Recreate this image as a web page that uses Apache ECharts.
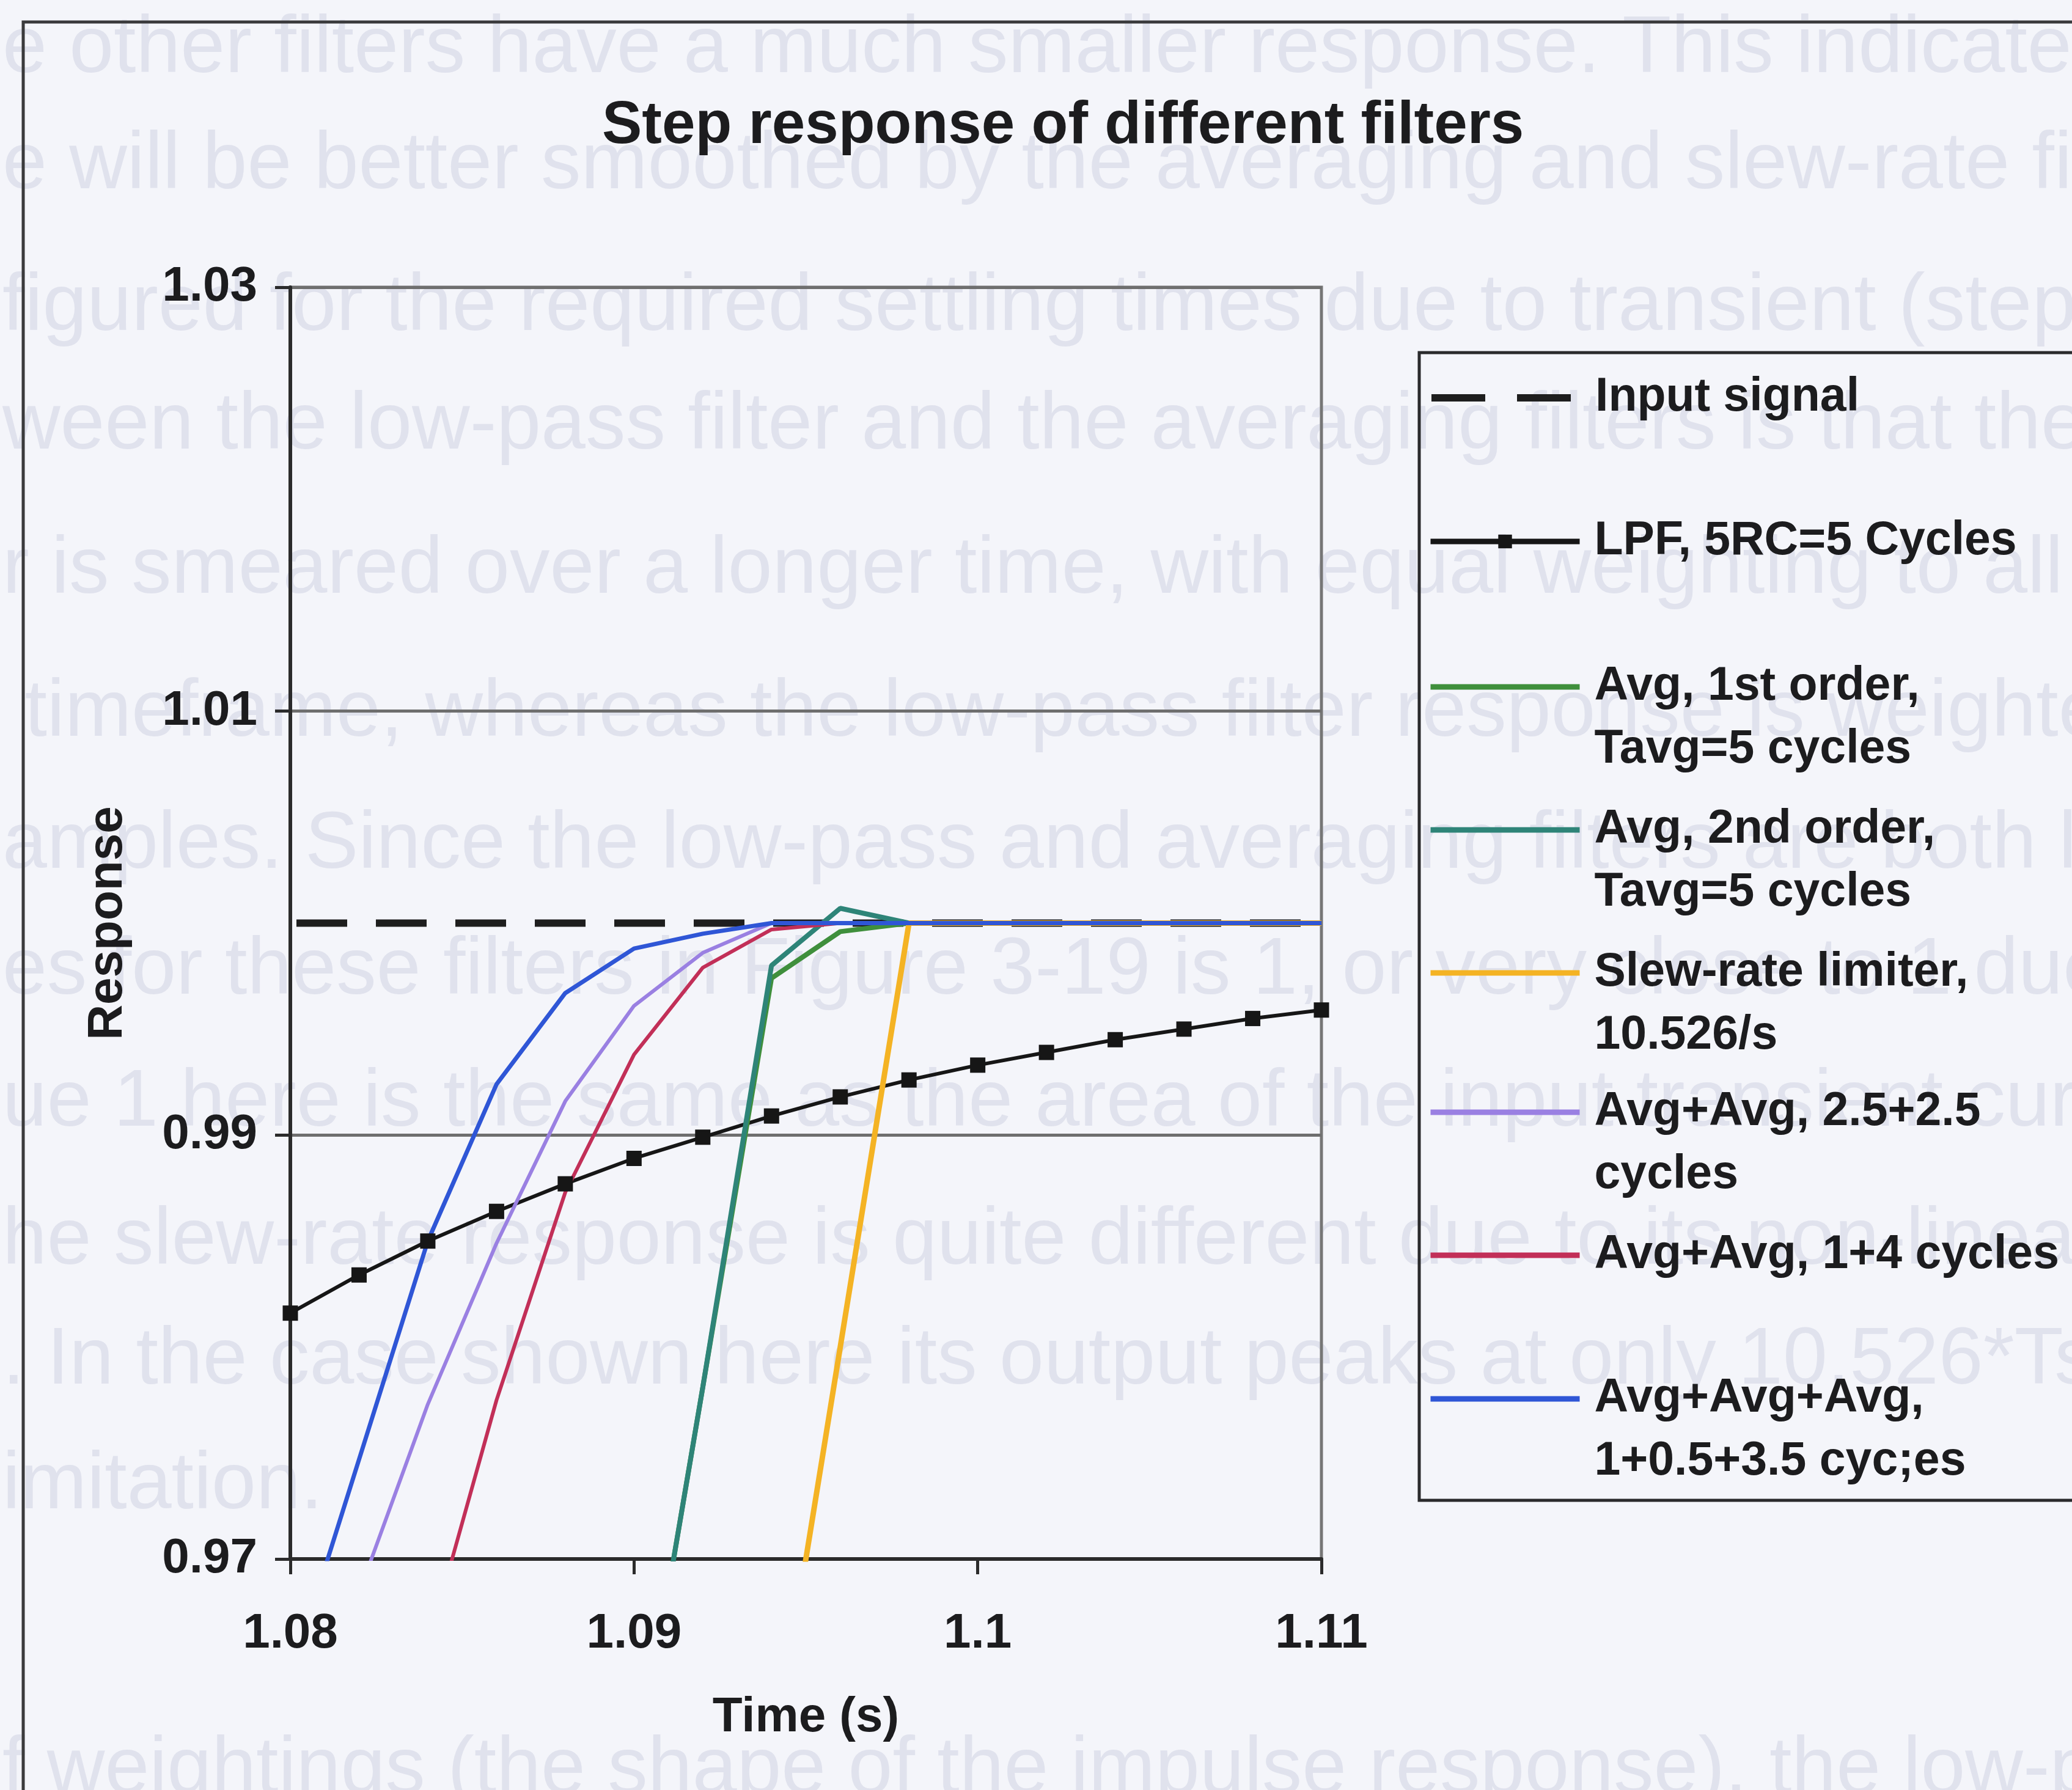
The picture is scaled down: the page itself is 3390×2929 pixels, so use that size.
<!DOCTYPE html>
<html>
<head>
<meta charset="utf-8">
<title>Step response of different filters</title>
<script src="https://cdn.jsdelivr.net/npm/echarts@6/dist/echarts.min.js"></script>
<style>
  html, body { margin: 0; padding: 0; background: #f4f5fa; }
  #chart { width: 3390px; height: 2929px; }
</style>
</head>
<body>
<div id="chart"></div>
<script>
// Sample times (s), one sample every 2 ms
const timeS = [1.080, 1.082, 1.084, 1.086, 1.088, 1.090, 1.092, 1.094,
               1.096, 1.098, 1.100, 1.102, 1.104, 1.106, 1.108, 1.110];

// Filter outputs at each sample time
const inputSignal = [1.0000, 1.0000, 1.0000, 1.0000, 1.0000, 1.0000, 1.0000, 1.0000,
                     1.0000, 1.0000, 1.0000, 1.0000, 1.0000, 1.0000, 1.0000, 1.0000];
const lpf5rc      = [0.9816, 0.9834, 0.9850, 0.9864, 0.9877, 0.9889, 0.9899, 0.9909,
                     0.9918, 0.9926, 0.9933, 0.9939, 0.9945, 0.9950, 0.9955, 0.9959];
const avgFirst    = [0.8640, 0.8830, 0.9020, 0.9210, 0.9400, 0.9590, 0.9781, 0.9974,
                     0.9996, 1.0000, 1.0000, 1.0000, 1.0000, 1.0000, 1.0000, 1.0000];
const avgSecond   = [0.8640, 0.8830, 0.9020, 0.9210, 0.9400, 0.9590, 0.9781, 0.9980,
                     1.0007, 1.0000, 1.0000, 1.0000, 1.0000, 1.0000, 1.0000, 1.0000];
const slewLimiter = [0.8200, 0.8400, 0.8600, 0.8800, 0.9000, 0.9200, 0.9400, 0.9600,
                     0.9800, 1.0000, 1.0000, 1.0000, 1.0000, 1.0000, 1.0000, 1.0000];
const avgAvg2525  = [0.9590, 0.9684, 0.9773, 0.9849, 0.9916, 0.9961, 0.9986, 1.0000,
                     1.0000, 1.0000, 1.0000, 1.0000, 1.0000, 1.0000, 1.0000, 1.0000];
const avgAvg14    = [0.9390, 0.9525, 0.9659, 0.9775, 0.9873, 0.9938, 0.9979, 0.9997,
                     1.0000, 1.0000, 1.0000, 1.0000, 1.0000, 1.0000, 1.0000, 1.0000];
const avgAvgAvg   = [0.9644, 0.9747, 0.9850, 0.9924, 0.9967, 0.9988, 0.9995, 1.0000,
                     1.0000, 1.0000, 1.0000, 1.0000, 1.0000, 1.0000, 1.0000, 1.0000];

// Axis tick labels
const xTickLabels = ['1.08', '1.09', '1.1', '1.11'];
const yTickLabels = ['0.97', '0.99', '1.01', '1.03'];

// Body text of the printed page that shows faintly behind the figure
const pageTextLines = [
  'e other filters have a much smaller response. This indicates',
  'e will be better smoothed by the averaging and slew-rate filters',
  'figured for the required settling times due to transient (step',
  'ween the low-pass filter and the averaging filters is that the',
  'r is smeared over a longer time, with equal weighting to all',
  ' timeframe, whereas the low-pass filter response is weighted',
  'amples. Since the low-pass and averaging filters are both li',
  'es for these filters in Figure 3-19 is 1, or very close to 1 due to',
  'ue 1 here is the same as the area of the input transient curve',
  'he slew-rate response is quite different due to its non-linear',
  '. In the case shown here its output peaks at only 10.526*Ts=0.',
  'imitation.',
  'f weightings (the shape of the impulse response), the low-pass'
];
const pageTextRowY = [82, 272, 504, 698, 934, 1168, 1384, 1590, 1806, 2032, 2228, 2432, 2898];

const FONT = "'Liberation Sans', Arial, Helvetica, sans-serif";
const INK = '#1c1c1e';

// Series in drawing order (later ones are painted on top)
const seriesDefs = [
  { name: 'Input signal', values: inputSignal, color: '#1e1e1e', width: 12, dash: [83, 47] },
  { name: 'LPF, 5RC=5 Cycles', values: lpf5rc, color: '#161616', width: 6, symbol: 'rect' },
  { name: 'Avg, 1st order,\nTavg=5 cycles', values: avgFirst, color: '#3f8f3c', width: 8 },
  { name: 'Avg, 2nd order,\nTavg=5 cycles', values: avgSecond, color: '#2e8478', width: 8 },
  { name: 'Slew-rate limiter,\n10.526/s', values: slewLimiter, color: '#f4b324', width: 9 },
  { name: 'Avg+Avg, 2.5+2.5\ncycles', values: avgAvg2525, color: '#9a80e2', width: 6 },
  { name: 'Avg+Avg, 1+4 cycles', values: avgAvg14, color: '#c22f58', width: 6 },
  { name: 'Avg+Avg+Avg,\n1+0.5+3.5 cyc;es', values: avgAvgAvg, color: '#2f56d6', width: 7 }
];

// Legend layout: vertical centre of each key, text line height
const legendRowY = [651, 886, 1124, 1358, 1592, 1820, 2054, 2289];
const LEGEND_LINE_H = 103;

const legends = seriesDefs.map((s, i) => {
  const multi = s.name.indexOf('\n') >= 0;
  // a leading blank line keeps the key level with the first text line
  const blockH = (multi ? 3 : 1) * LEGEND_LINE_H;
  return {
    data: [s.name],
    orient: 'vertical',
    left: 2336,
    top: legendRowY[i] - blockH / 2,
    padding: 0,
    itemWidth: 244,
    itemHeight: 28,
    selectedMode: false,
    formatter: (n) => (n.indexOf('\n') >= 0 ? '\n' + n : n),
    textStyle: {
      fontFamily: FONT, fontSize: 77, fontWeight: 'bold', color: INK,
      lineHeight: LEGEND_LINE_H, padding: [0, 0, 0, 19]
    },
    itemStyle: s.symbol ? { color: s.color, borderWidth: 0 } : { opacity: 0 },
    lineStyle: s.dash
      ? { width: s.width, type: [88, 52], dashOffset: 0, color: s.color }
      : { width: 9, color: s.color }
  };
});

const pageText = pageTextLines.map((line, i) => ({
  type: 'text', z: -10, silent: true,
  left: 4, top: pageTextRowY[i] - 66,
  style: {
    text: line,
    fill: '#e0e2ed',
    fontFamily: FONT, fontSize: 131, fontWeight: 'normal',
    shadowBlur: 8, shadowColor: '#dcdfeb'
  }
}));

const chart = echarts.init(document.getElementById('chart'), null, { renderer: 'canvas' });

chart.setOption({
  backgroundColor: '#f4f5fa',
  animation: false,
  title: {
    text: 'Step response of different filters',
    left: 985,
    top: 158,
    padding: 0,
    textStyle: { fontFamily: FONT, fontSize: 98, fontWeight: 'bold', color: INK }
  },
  grid: {
    left: 475, right: 1228, top: 470, bottom: 378,
    show: true, borderColor: '#767676', borderWidth: 5, backgroundColor: 'transparent'
  },
  legend: legends,
  xAxis: {
    type: 'value',
    min: 1.08, max: 1.11, interval: 0.01,
    name: 'Time (s)',
    nameLocation: 'middle',
    nameGap: 220,
    nameTextStyle: { fontFamily: FONT, fontSize: 80, fontWeight: 'bold', color: INK },
    axisLine: { show: true, onZero: false, lineStyle: { color: '#2b2b2b', width: 6 } },
    axisTick: { show: true, inside: false, length: 25, lineStyle: { color: '#2b2b2b', width: 5 } },
    axisLabel: {
      margin: 83,
      fontFamily: FONT, fontSize: 80, fontWeight: 'bold', color: INK,
      formatter: (v, i) => xTickLabels[i]
    },
    splitLine: { show: false }
  },
  yAxis: {
    type: 'value',
    min: 0.97, max: 1.03, interval: 0.02,
    name: 'Response',
    nameLocation: 'middle',
    nameGap: 258,
    nameTextStyle: { fontFamily: FONT, fontSize: 80, fontWeight: 'bold', color: INK },
    axisLine: { show: true, onZero: false, lineStyle: { color: '#2b2b2b', width: 6 } },
    axisTick: { show: true, inside: false, length: 25, lineStyle: { color: '#2b2b2b', width: 5 } },
    axisLabel: {
      margin: 54,
      fontFamily: FONT, fontSize: 80, fontWeight: 'bold', color: INK,
      formatter: (v, i) => yTickLabels[i]
    },
    splitLine: { show: true, lineStyle: { color: '#6e6e6e', width: 5 } }
  },
  graphic: pageText.concat([
    {
      // outer chart frame
      type: 'rect', z: 0, silent: true,
      shape: { x: 38, y: 36, width: 3500, height: 3100 },
      style: { fill: 'none', stroke: '#3a3a3c', lineWidth: 5 }
    },
    {
      // legend frame
      type: 'rect', z: 0, silent: true,
      shape: { x: 2322, y: 577, width: 1200, height: 1878 },
      style: { fill: 'none', stroke: '#2a2a2c', lineWidth: 5 }
    }
  ]),
  series: seriesDefs.map((s) => ({
    name: s.name,
    type: 'line',
    data: timeS.map((t, i) => [t, s.values[i]]),
    symbol: s.symbol || 'none',
    symbolSize: 25,
    showSymbol: !!s.symbol,
    showAllSymbol: true,
    clip: true,
    lineStyle: {
      color: s.color, width: s.width,
      type: s.dash ? s.dash : 'solid',
      dashOffset: s.dash ? -10 : 0
    },
    itemStyle: { color: s.color },
    emphasis: { disabled: true }
  }))
});
</script>
</body>
</html>
